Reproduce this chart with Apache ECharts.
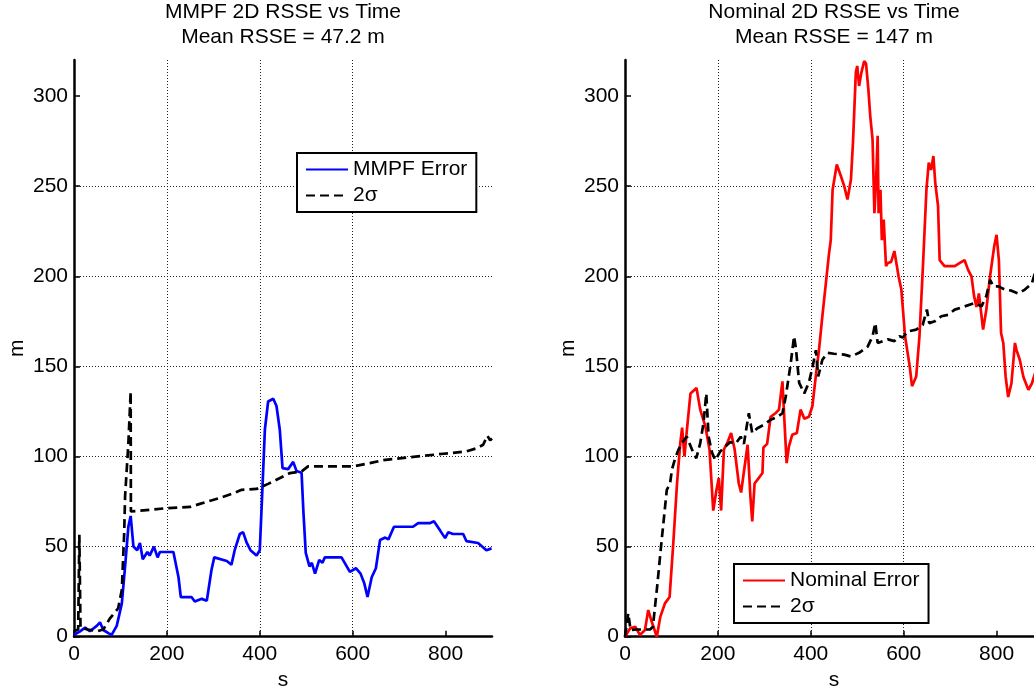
<!DOCTYPE html>
<html><head><meta charset="utf-8">
<script src="https://cdn.jsdelivr.net/npm/echarts@6/dist/echarts.min.js"></script>
<style>html,body{margin:0;padding:0;background:#fff}#c{width:1034px;height:687px}</style>
</head><body><div id="c"></div>
<script>
const xTicks = [0, 200, 400, 600, 800];
const yTicks = [0, 50, 100, 150, 200, 250, 300];
const titles = ['MMPF 2D RSSE vs Time\nMean RSSE = 47.2 m', 'Nominal 2D RSSE vs Time\nMean RSSE = 147 m'];

// Left: MMPF error
const mmpfT =   [0,13,24,34,49,56,63,74,81,92,103,110,117,122,128,136,142,148,158,163,172,180,185,214,225,230,253,260,275,286,296,302,329,339,346,357,364,372,380,393,400,405,411,418,429,436,443,449,461,472,479,490,494,499,507,512,519,528,535,540,576,594,607,617,625,632,641,650,659,670,677,689,730,741,766,775,788,799,806,816,838,845,870,888,899];
const mmpfErr = [1,3,5,3,6,8,3.7,2,1,6,18.5,39,61,67,50,48,52,43,47,45,50,44,47,47,33,22,22,19.5,21,20,37,44,42,40,48,57,58,52,48,45,48,78,115,130.5,132,128,115,93.5,93,97,92,91,69,46.5,39,41,35,42.6,41,44,44,36,38,35,29.6,22,33,38,53.7,55,54,61,61,63,63,64,59,54.7,58,57,57,53,52,48,49];
// Left: 2 sigma
const mmpfSigT = [0,9,11.5,14,30,50,63,77,95,103,108,110,117,122,122.5,126,200,250,271,314,343,361,393,418,465,490,504,601,637,666,723,795,845,867,881,890,896,900];
const mmpfSig  = [3,4,56.5,5,4,3,4,10,15.7,26,57,78,107,136,69.5,70,71.3,72,73.7,77,79.6,81.5,82,84.8,90.8,91.7,94.5,94.5,96.3,98,99.6,101.5,102.8,104.6,106.5,111.5,109,110];

// Right: nominal error
const nomT =   [0,11,22,32,43,50,58,68.5,76,86,96,104,112,119,123,128,133,141,154,162,173,182,190,197,202,207,213,220,228.5,236,245,250,256,264,270,274,279,285,296,298,306,313.5,324,331.5,339,342,348,353,360,370,378,386,389,396,403.5,411,418,425,432,439,443,447,456,465,472,479,486.5,491,497,500,504,509,515,519,524,528,533,537,540.5,544,546,550,553,557,562,566,573,580,589,595,598,603,613,618,627,634,641.5,649,654,659,664,668,674,677.5,688,710,721,731,738.5,746,751.6,756.7,762,771,778,786,795,800,805,809.7,814.5,819.5,825,832,839.6,843,850,858,868.5,876,883,900];
const nomErr = [0,4.6,5.5,1,3.7,14.8,8,0,11,18.5,22,52,85,107.4,116,100,114,135,138,126,116.7,103.7,70,81.5,88,70,104,107.4,113,104,85,80,91.5,106.5,77.8,64,85,87,90.8,105,107,122,124,126,141.7,126,96.3,105.6,112,113,126,121,122,122,128,145,160,178,195,212,220,248,262,255.5,250,242.6,253.7,275,313,316.7,305.6,313,319.4,318,303.7,289,276,235,252,278,235,248,220,231.5,205.6,207.4,208,214,200,192.6,183,166.7,150,139,144.4,166.7,205.6,248,263,259,266.7,252,239,209,205.6,205.6,207.4,209,203.7,200,189,183,190.5,170.4,181.5,200,216.7,223,209,168.5,163,144.4,133,140.5,163,159,153.7,144,137,140.5,146.3,150];
// Right: 2 sigma
const nomSigT = [0,7,12,25,54,60,68.5,79,90,97,101,108,115.5,122.5,133,144,153.5,162,169,175,180,187.5,194.6,205,216,227,238,249,256,266.6,274,285,299,313.5,328,339,346,357,364,368,375,386,396,404,411,416,425,436,450,472,486.5,504,522.5,533,539,544,555,566,580,591,598,609,627,641,650,655,667,681,695.5,710,731.5,753,767.6,778,786,793,804,818,832,847,861,876,883,900];
const nomSig  = [0,13,3.7,4,4,5.5,26,53.7,81.5,85,92.6,99,104,107.4,111,104,99,107.4,118.5,135,111,102,98,102.8,105.6,108,107,111,107,124,113,115.7,117.6,120.4,122,124,133,152,166.7,160,140.8,135,141,150,159,144.4,153.7,157.5,157,156.5,155.5,157.5,161,166.7,174,163,164,165,164,166.7,166,169.4,170.4,173,181.5,174,175,177.8,178.6,181.5,183.3,185.2,183.3,189,198,194.4,194.4,192.6,192,190.4,192.6,196,202,208];

const FONT = 'Liberation Sans, Arial, sans-serif';
const FS = 21;
const zip = (a, b) => a.map((v, i) => [v, b[i]]);

const gridLefts = [74, 625];
const grids = gridLefts.map(l => ({ left: l, top: 60, width: 418, height: 576.7, containLabel: false, outerBoundsMode: 'none' }));

const gridLine = { show: true, showMaxLine: false, showMinLine: false, lineStyle: { color: '#222', width: 1, type: [1, 2] } };

const xAxes = [0, 1].map(i => ({
  type: 'value', gridIndex: i, min: 0, max: 900, interval: 200,
  name: 's', nameLocation: 'middle', nameGap: 33,
  nameTextStyle: { fontFamily: FONT, fontSize: FS, color: '#000' },
  axisLine: { show: true, onZero: false, lineStyle: { color: '#000', width: 2.5 } },
  axisTick: { show: true, inside: true, length: 6, customValues: xTicks, lineStyle: { color: '#000', width: 1.5 } },
  axisLabel: { show: true, customValues: xTicks, margin: 7, fontFamily: FONT, fontSize: FS, color: '#000' },
  splitLine: gridLine
}));

const yAxes = [0, 1].map(i => ({
  type: 'value', gridIndex: i, min: 0, max: 320, interval: 50,
  name: 'm', nameLocation: 'middle', nameGap: 46,
  nameTextStyle: { fontFamily: FONT, fontSize: FS, color: '#000' },
  axisLine: { show: true, onZero: false, lineStyle: { color: '#000', width: 2.5 } },
  axisTick: { show: true, inside: true, length: 6, customValues: yTicks, lineStyle: { color: '#000', width: 1.5 } },
  axisLabel: { show: true, customValues: yTicks, margin: 6, fontFamily: FONT, fontSize: FS, color: '#000' },
  splitLine: gridLine
}));

const mkLine = (name, idx, t, v, color, dashed) => ({
  name, type: 'line', xAxisIndex: idx, yAxisIndex: idx,
  data: zip(t, v), symbol: 'none', showSymbol: false, clip: true,
  lineStyle: { color, width: 2.7, type: dashed ? [9, 5] : 'solid' },
  itemStyle: { color },
  emphasis: { disabled: true }
});

const legendBase = {
  orient: 'vertical', padding: [6, 9, 6, 8], itemGap: 5,
  itemWidth: 42, itemHeight: 16,
  backgroundColor: '#fff', borderColor: '#000', borderWidth: 2, borderRadius: 0,
  itemStyle: { opacity: 0 },
  textStyle: { fontFamily: FONT, fontSize: FS, color: '#000' },
  selectedMode: false
};

const chart = echarts.init(document.getElementById('c'), null, { renderer: 'canvas' });
chart.setOption({
  animation: false,
  backgroundColor: '#fff',
  title: titles.map((t, i) => ({
    text: t, left: gridLefts[i] + 209, top: 0, padding: 0, textAlign: 'center',
    textStyle: { fontFamily: FONT, fontSize: FS, fontWeight: 'normal', color: '#000', lineHeight: 25 }
  })),
  grid: grids,
  xAxis: xAxes,
  yAxis: yAxes,
  legend: [
    Object.assign({}, legendBase, { data: ['MMPF Error', '2σ'], left: 297, top: 153 }),
    Object.assign({}, legendBase, { data: ['Nominal Error', '2σ'], left: 734, top: 564 })
  ],
  series: [
    mkLine('MMPF Error', 0, mmpfT, mmpfErr, '#0000ff', false),
    mkLine('2σ', 0, mmpfSigT, mmpfSig, '#000000', true),
    mkLine('Nominal Error', 1, nomT, nomErr, '#ff0000', false),
    mkLine('2σ', 1, nomSigT, nomSig, '#000000', true)
  ]
});
</script>
</body></html>
